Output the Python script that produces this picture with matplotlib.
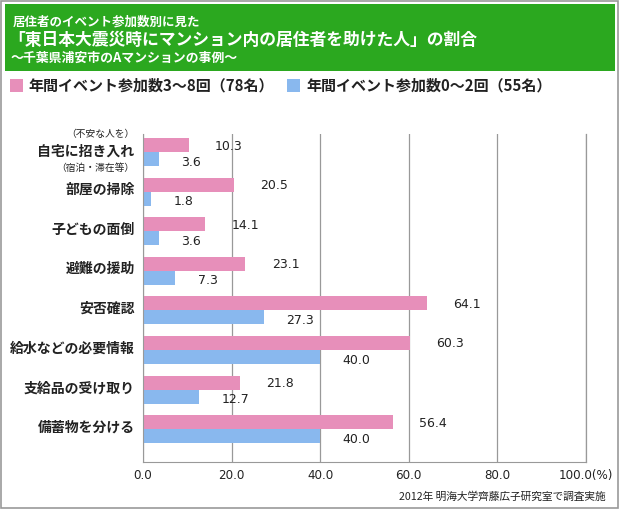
import matplotlib
matplotlib.use("Agg")
import matplotlib.pyplot as plt
import numpy as np
from matplotlib.patches import Rectangle

plt.rcParams['font.family'] = ['Noto Sans CJK JP', 'DejaVu Sans']

# data
categories = ["自宅に招き入れ", "部屋の掃除", "子どもの面倒", "避難の援助",
              "安否確認", "給水などの必要情報", "支給品の受け取り", "備蓄物を分ける"]
active = [10.3, 20.5, 14.1, 23.1, 64.1, 60.3, 21.8, 56.4]    # 3~8回 (78名)
inactive = [3.6, 1.8, 3.6, 7.3, 27.3, 40.0, 12.7, 40.0]      # 0~2回 (55名)
xticks = [0, 20, 40, 60, 80, 100]
xtick_labels = ["0.0", "20.0", "40.0", "60.0", "80.0", "100.0(%)"]

pink = "#e78fba"
blue = "#89b8ee"
green = "#2ba81f"
grey = "#999999"
txt = "#222222"

W, H = 620, 510
fig = plt.figure(figsize=(6.2, 5.1), dpi=100)

def px(x, y):
    return x / W, 1 - y / H

# outer border
fig.patches.append(Rectangle((1 / W, 1 / H), 1 - 3 / W, 1 - 3 / H, transform=fig.transFigure,
                             fill=False, edgecolor=grey, linewidth=1.2))
# green header
fig.patches.append(Rectangle(px(5, 72), 610 / W, 67 / H, transform=fig.transFigure,
                             facecolor=green, edgecolor="none"))
fig.text(*px(13, 22), "居住者のイベント参加数別に見た", color="white", fontsize=9,
         fontweight="bold", va="center")
fig.text(*px(8, 40), "「東日本大震災時にマンション内の居住者を助けた人」の割合", color="white",
         fontsize=12.1, fontweight="bold", va="center")
fig.text(*px(11, 58), "～千葉県浦安市のAマンションの事例～", color="white", fontsize=9.3,
         fontweight="bold", va="center")

# legend
fig.patches.append(Rectangle(px(10, 93), 13 / W, 13 / H, transform=fig.transFigure,
                             facecolor=pink, edgecolor="none"))
fig.text(*px(28, 86), "年間イベント参加数3～8回（78名）", fontsize=10.8, fontweight="bold",
         va="center", color=txt)
fig.patches.append(Rectangle(px(287, 93), 13 / W, 13 / H, transform=fig.transFigure,
                             facecolor=blue, edgecolor="none"))
fig.text(*px(306, 86), "年間イベント参加数0～2回（55名）", fontsize=10.8, fontweight="bold",
         va="center", color=txt)

# axes
ax = fig.add_axes([143 / W, 1 - 463 / H, (586 - 143) / W, (463 - 135) / H])
y = np.arange(len(categories))
h = 0.354
ax.barh(y - h / 2, active, height=h, color=pink, zorder=2)
ax.barh(y + h / 2, inactive, height=h, color=blue, zorder=2)

for i in range(len(categories)):
    ax.annotate(f"{active[i]:.1f}", (active[i], y[i] - h / 2), xytext=(19, 0),
                textcoords="offset points", va="center", fontsize=9, color=txt,
                family="DejaVu Sans")
    ax.annotate(f"{inactive[i]:.1f}", (inactive[i], y[i] + h / 2), xytext=(16, -1.5),
                textcoords="offset points", va="center", fontsize=9, color=txt,
                family="DejaVu Sans")

ax.set_xlim(0, 100)
ax.set_ylim(7.83, -0.455)
ax.set_xticks(xticks)
ax.set_xticklabels(xtick_labels, fontsize=8.6, color=txt, family="DejaVu Sans")
ax.tick_params(axis="x", length=0, pad=4)
ax.set_yticks(y - 0.1)
ax.set_yticklabels([""] + categories[1:], fontsize=10, fontweight="bold", color=txt)
ax.tick_params(axis="y", length=0, pad=6)
ax.grid(axis="x", color=grey, linewidth=0.9, zorder=0)
ax.axvline(100, color=grey, linewidth=0.9, zorder=0, clip_on=False)
for s in ["top", "right"]:
    ax.spines[s].set_visible(False)
ax.spines["left"].set_color(grey)
ax.spines["bottom"].set_color(grey)

# first category with small notes
ax.text(-0.02, -0.03, "自宅に招き入れ", transform=ax.get_yaxis_transform(), ha="right",
        va="center", fontsize=10, fontweight="bold", color=txt)
ax.text(-0.02, -0.47, "（不安な人を）", transform=ax.get_yaxis_transform(), ha="right",
        va="center", fontsize=7, color=txt)
ax.text(-0.02, 0.38, "（宿泊・滞在等）", transform=ax.get_yaxis_transform(), ha="right",
        va="center", fontsize=7, color=txt)

fig.text(*px(606, 497), "2012年 明海大学齊藤広子研究室で調査実施", fontsize=7.7,
         ha="right", va="center", color=txt)

fig.savefig("out.png", dpi=100)
